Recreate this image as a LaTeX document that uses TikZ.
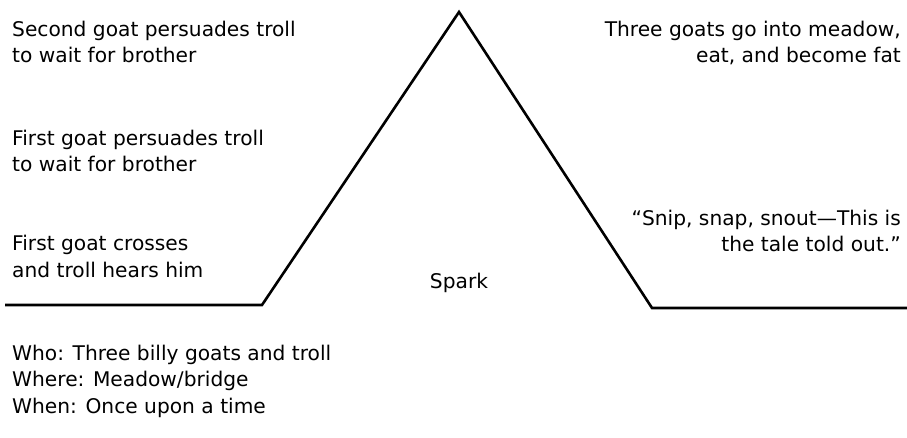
\documentclass[tikz,border=0pt]{standalone}
\usepackage{fontspec}
\setmainfont{DejaVu Sans}
\usetikzlibrary{positioning}

\begin{document}
\begin{tikzpicture}[x=1pt, y=-1pt, font=\fontsize{20.2}{26.5}\selectfont,
    beat/.style={inner sep=0pt, align=left, anchor=base west},
    beatr/.style={inner sep=0pt, align=right, anchor=base east},
    plotline/.style={line width=2.6pt, line join=miter}]
    \useasboundingbox (0,0) rectangle (907,438);
    % plot line
    \coordinate (start) at (5,305);
    \coordinate (rise) at (262,305);
    \coordinate (peak) at (459,12);
    \coordinate (fall) at (652,308);
    \coordinate (end) at (907,308);
    \draw[plotline] (start) -- (rise) -- (peak) -- (fall) -- (end);
    % beats on the left (placed at the baseline of the last line)
    \node[beat] (second) at (12,63) {Second goat persuades troll\\to wait for brother};
    \node[beat] (first) at (12,172) {First goat persuades troll\\to wait for brother};
    \node[beat] (cross) at (12,277) {First goat crosses\\and troll hears him};
    \node[inner sep=0pt, anchor=base] (spark) at (459,288) {Spark};
    % beats on the right
    \node[beatr] (meadow) at (901,63) {Three goats go into meadow,\\eat, and become fat};
    \node[beatr] (snip) at (901,252) {“Snip, snap, snout—This is\\the tale told out.”};
    % setting
    \node[beat] (setting) at (12,413) {Who: Three billy goats and troll\\Where: Meadow/bridge\\When: Once upon a time};
\end{tikzpicture}
\end{document}
